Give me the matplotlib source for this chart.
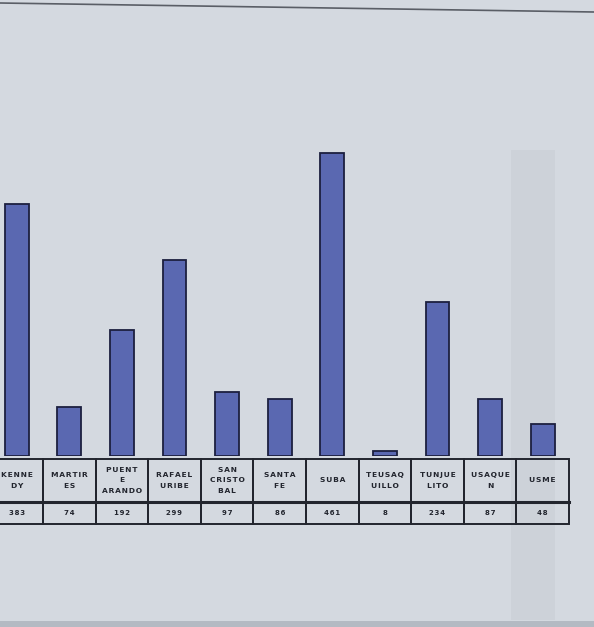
import matplotlib
matplotlib.use("Agg")
import matplotlib.pyplot as plt
from matplotlib.patches import Rectangle
from matplotlib.lines import Line2D

# ---- data ----
localidades = ["KENNE\nDY", "MARTIR\nES", "PUENT\nE\nARANDO", "RAFAEL\nURIBE",
               "SAN\nCRISTO\nBAL", "SANTA\nFE", "SUBA", "TEUSAQ\nUILLO",
               "TUNJUE\nLITO", "USAQUE\nN", "USME"]
casos = [383, 74, 192, 299, 97, 86, 461, 8, 234, 87, 48]

W, H = 594, 627
bg = "#d4d9e0"
bar_color = "#5a68b1"
edge_color = "#1c1f3f"
ink = "#22252e"

fig = plt.figure(figsize=(W / 100, H / 100), dpi=100, facecolor=bg)

def fy(py):  # pixel from top -> figure fraction
    return 1 - py / H

col_w = 52.6
x0 = 16.7
xlim = (-x0 / col_w, (W - x0) / col_w)

base_px = 456
ax = fig.add_axes([0, fy(base_px), 1, base_px / H])
ax.set_facecolor("none")
ax.bar(range(len(casos)), casos, width=0.45, color=bar_color,
       edgecolor=edge_color, linewidth=1.3, zorder=3)
ax.set_xlim(*xlim)
ax.set_ylim(0, base_px / 0.657)
ax.axis("off")

# ---- data table under the bars ----
def spaced(s):
    return "\n".join("\u200a".join(line) for line in s.split("\n"))

top_px, mid_px, bot_px = 459, 502, 524
tax = fig.add_axes([0, fy(bot_px), 1, (bot_px - top_px) / H])
tax.set_facecolor("none")
tax.set_xlim(*xlim)
tax.set_ylim(0, 1)
tax.axis("off")
r_mid = (bot_px - mid_px) / (bot_px - top_px)
for i, (name, val) in enumerate(zip(localidades, casos)):
    tax.add_patch(Rectangle((i - 0.5, r_mid), 1, 1 - r_mid, fill=False,
                            edgecolor=ink, linewidth=1.4, clip_on=False))
    tax.add_patch(Rectangle((i - 0.5, 0), 1, r_mid, fill=False,
                            edgecolor=ink, linewidth=1.4, clip_on=False))
    tax.text(i, (1 + r_mid) / 2, spaced(name), ha="center", va="center",
             fontsize=5.4, fontweight="bold", color=ink, linespacing=1.9,
             family="DejaVu Sans")
    tax.text(i, r_mid / 2, spaced(str(val)), ha="center", va="center",
             fontsize=5.0, fontweight="bold", color=ink, family="DejaVu Sans")
tax.plot([xlim[0], 10.5], [r_mid, r_mid], color=ink, linewidth=2.2, clip_on=False)

# ---- photo / page details ----
fig.add_artist(Line2D([0, 1], [fy(3), fy(12)], color="#5a5e66", linewidth=1.2))
fig.add_artist(Rectangle((0.86, fy(620)), 0.075, (620 - 150) / H,
                         color="#cdd2d9", zorder=-1, linewidth=0))
fig.add_artist(Rectangle((0, 0), 1, (H - 621) / H, color="#b4bac3", zorder=-1,
                         linewidth=0))

fig.savefig("out.png", dpi=100, facecolor=bg)
